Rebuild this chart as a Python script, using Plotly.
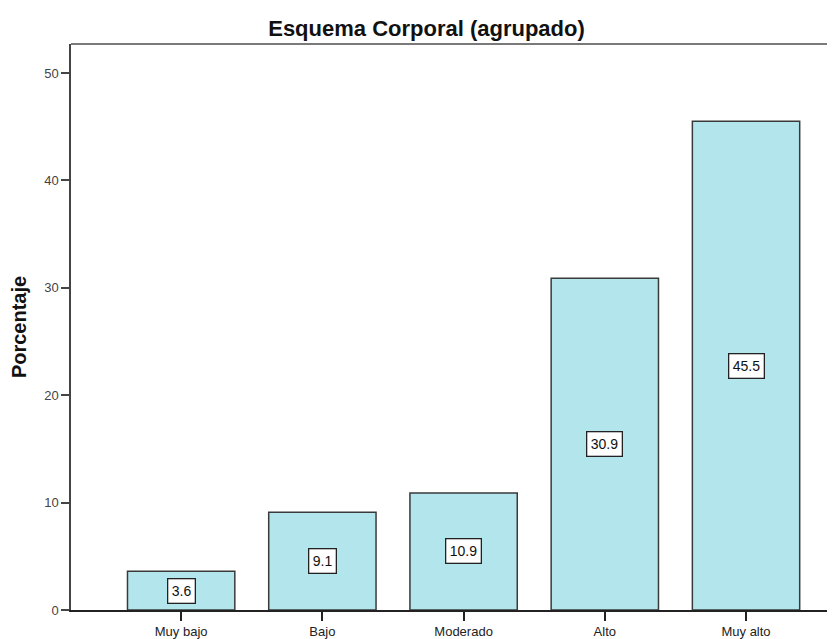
import plotly.graph_objects as go

categories = ["Muy bajo", "Bajo", "Moderado", "Alto", "Muy alto"]
percentages = [3.6, 9.1, 10.9, 30.9, 45.5]
y_ticks = [0, 10, 20, 30, 40, 50]

FONT = "Liberation Sans, Arial, sans-serif"

fig = go.Figure()
fig.add_trace(go.Bar(
    x=categories, y=percentages,
    marker=dict(color="#B3E6EC", line=dict(color="#3a3a3a", width=1.5)),
    width=0.76, hoverinfo="skip",
))

for c, v in zip(categories, percentages):
    fig.add_annotation(
        x=c, y=v / 2, text=f"{v:.1f}", showarrow=False,
        font=dict(family=FONT, size=14, color="#111"),
        bgcolor="white", bordercolor="#222", borderwidth=1.3, borderpad=3.5,
    )

fig.add_shape(type="line", xref="paper", yref="paper", x0=0, x1=1, y0=1, y1=1,
              line=dict(color="#7a7a7a", width=2))

# page body has an 8px margin, so the figure is sized/positioned to compensate
fig.update_layout(
    width=827, height=631,
    margin=dict(l=63, r=0, t=36, b=26),
    paper_bgcolor="white", plot_bgcolor="white",
    showlegend=False,
    title=dict(text="<b>Esquema Corporal (agrupado)</b>", x=418.5/827, xanchor="center",
               y=1 - 20.5/631, yanchor="middle",
               font=dict(family=FONT, size=22, color="#111")),
    font=dict(family=FONT, size=13, color="#333"),
    xaxis=dict(range=[-0.78, 4.63], showline=True, linecolor="#222", linewidth=1.5,
               ticks="outside", ticklen=9, tickcolor="#222", tickwidth=1.5,
               showgrid=False, zeroline=False, fixedrange=True,
               tickfont=dict(family=FONT, size=13, color="#222")),
    yaxis=dict(range=[0, 52.7], tickvals=y_ticks, showline=True, linecolor="#444",
               linewidth=1.5, ticks="outside", ticklen=8, tickcolor="#444", tickwidth=1.5,
               showgrid=False, zeroline=False, fixedrange=True,
               tickfont=dict(family=FONT, size=13, color="#444"),
               title=dict(text="<b>Porcentaje</b>", standoff=13,
                          font=dict(family=FONT, size=20, color="#111"))),
)

fig.write_html("out.html")
